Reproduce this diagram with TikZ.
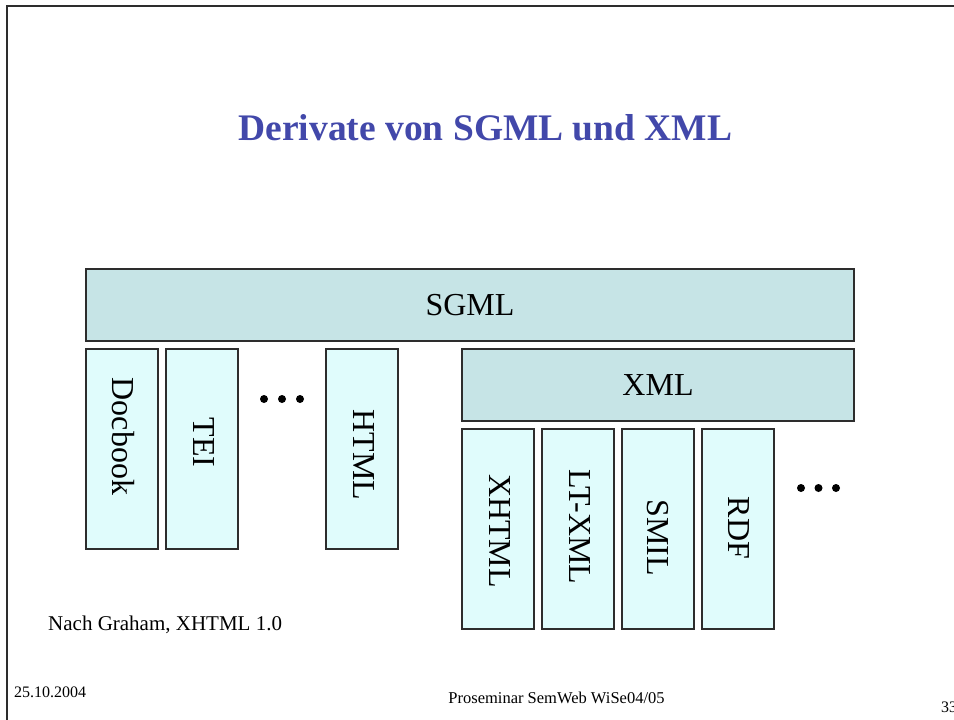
\documentclass[tikz,border=0pt]{standalone}
\usepackage{fontspec}
\setmainfont{Liberation Serif}
\definecolor{titleblue}{RGB}{66,72,170}
\definecolor{langfill}{RGB}{198,228,230}
\definecolor{appfill}{RGB}{224,252,252}
\definecolor{edgegray}{RGB}{45,45,45}
\begin{document}
\begin{tikzpicture}[x=1pt,y=-1pt,
  langbox/.style={draw=edgegray,line width=1.2pt,fill=langfill},
  appbox/.style={draw=edgegray,line width=1.2pt,fill=appfill},
  bigtext/.style={inner sep=0pt,font=\fontsize{32}{38}\selectfont},
  vtext/.style={bigtext,rotate=-90},
  dot/.style={fill=black}]
\useasboundingbox (0,0) rectangle (954,720);

% slide frame (top and left edge)
\draw[edgegray,line width=1.4pt] (7,720) -- (7,6) -- (954,6);

% title
\node[font=\fontsize{37.5}{44}\selectfont\bfseries,text=titleblue,anchor=base,inner sep=0pt]
  (title) at (485.5,140) {Derivate von SGML und XML};

% SGML layer
\draw[langbox] (86,269) rectangle (854,341);
\node[bigtext] (sgml) at (470,305) {SGML};

% direct SGML applications
\draw[appbox] (86,349) rectangle (158,549);
\draw[appbox] (166,349) rectangle (238,549);
\draw[appbox] (326,349) rectangle (398,549);
\node[vtext] (docbook) at (123,436.5) {Docbook};
\node[vtext] (tei) at (204,442.5) {TEI};
\node[vtext] (html) at (364,455) {HTML};
\foreach \x in {264,282,300} \fill[dot] (\x,399) circle (4);

% XML layer
\draw[langbox] (462,349) rectangle (854,421);
\node[bigtext] (xml) at (658,385) {XML};

% XML applications
\draw[appbox] (462,429) rectangle (534,629);
\draw[appbox] (542,429) rectangle (614,629);
\draw[appbox] (622,429) rectangle (694,629);
\draw[appbox] (702,429) rectangle (774,629);
\node[vtext] (xhtml) at (500,531) {XHTML};
\node[vtext] (ltxml) at (580,527) {LT-XML};
\node[vtext] (smil) at (658,537.5) {SMIL};
\node[vtext] (rdf) at (739,528) {RDF};
\foreach \x in {801,818.5,836} \fill[dot] (\x,488) circle (4);

% source note and footer
\node[anchor=base west,inner sep=0pt,font=\fontsize{21}{25}\selectfont]
  (source) at (48,630) {Nach Graham, XHTML 1.0};
\node[anchor=base west,inner sep=0pt,font=\fontsize{16}{19}\selectfont]
  (date) at (14,697) {25.10.2004};
\node[anchor=base,inner sep=0pt,font=\fontsize{16.5}{19}\selectfont]
  (course) at (556.5,703) {Proseminar SemWeb WiSe04/05};
\node[anchor=base west,inner sep=0pt,font=\fontsize{16}{19}\selectfont]
  (page) at (941,712) {33};
\end{tikzpicture}
\end{document}
